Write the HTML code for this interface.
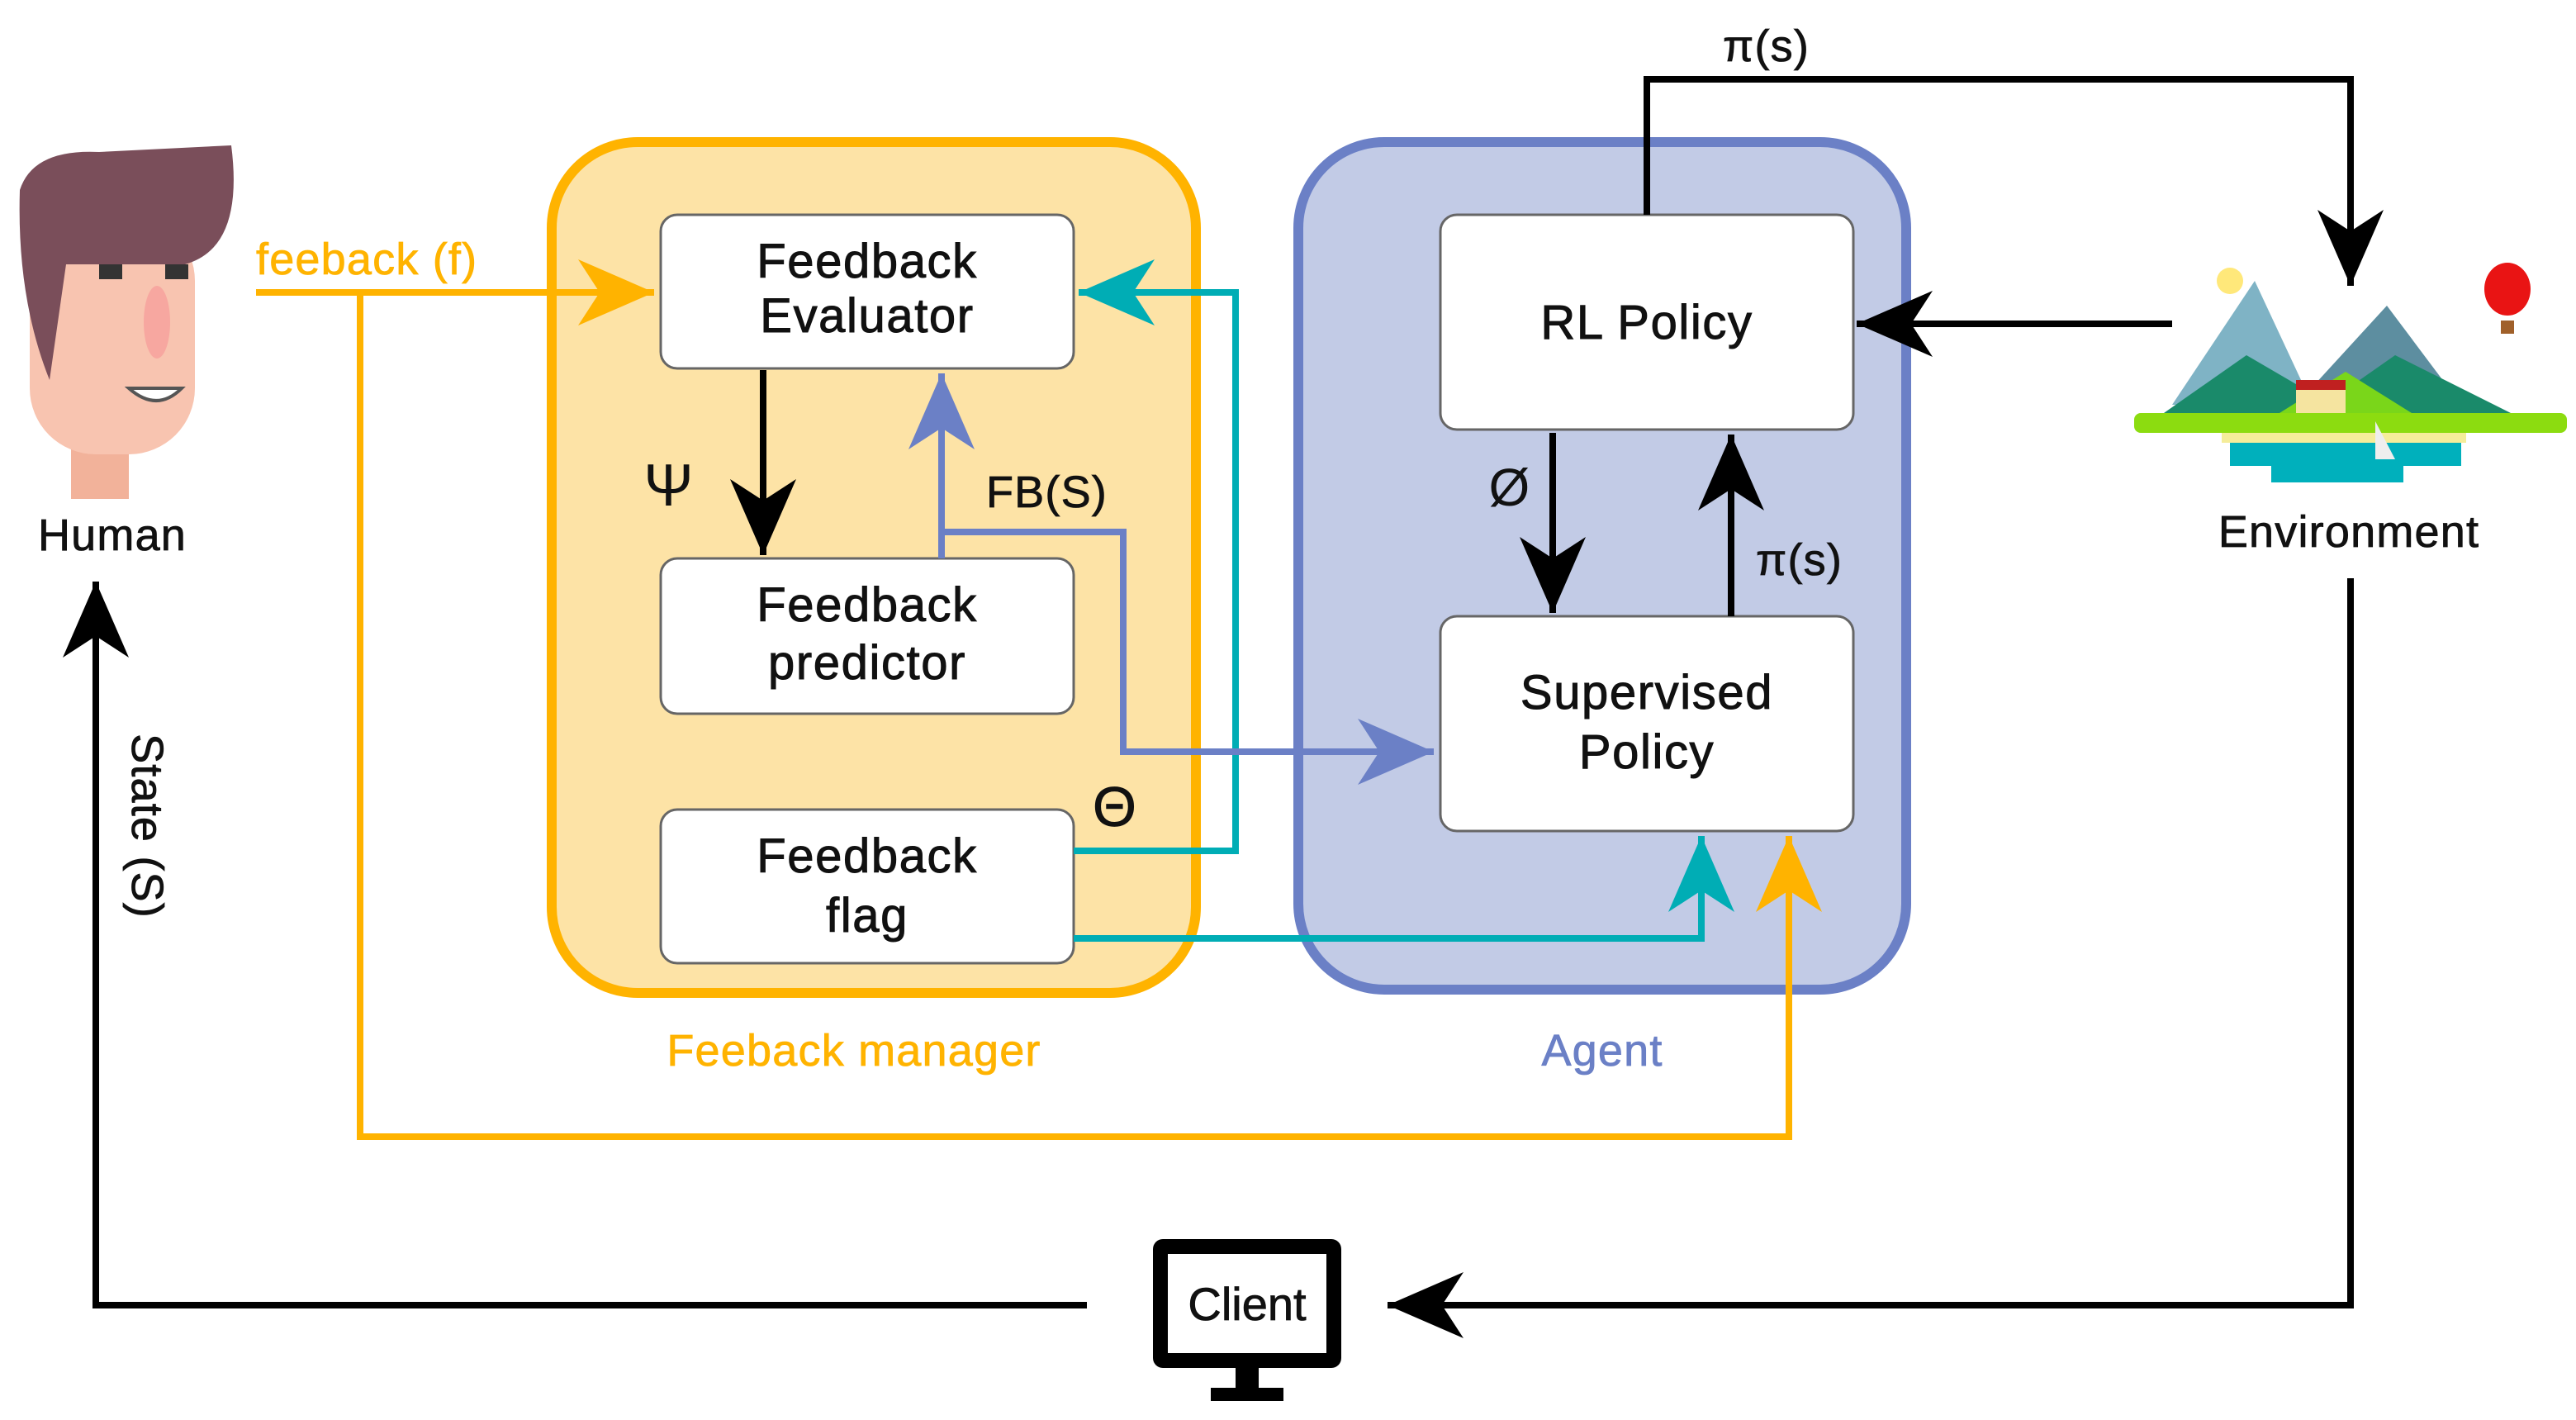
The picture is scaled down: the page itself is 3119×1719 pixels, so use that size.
<!DOCTYPE html>
<html><head><meta charset="utf-8"><style>html,body{margin:0;padding:0;background:#fff}svg{display:block}</style></head><body>
<svg width="3119" height="1719" viewBox="0 0 1559.5 859.5" xmlns="http://www.w3.org/2000/svg" font-family="Liberation Sans, sans-serif">
<defs>
<marker id="mk" markerUnits="userSpaceOnUse" viewBox="0 0 46 40" refX="46" refY="20" markerWidth="46" markerHeight="40" orient="auto"><path d="M0,0 L46,20 L0,40 L13,20 z" fill="#000"/></marker>
<marker id="mo" markerUnits="userSpaceOnUse" viewBox="0 0 46 40" refX="46" refY="20" markerWidth="46" markerHeight="40" orient="auto"><path d="M0,0 L46,20 L0,40 L13,20 z" fill="#ffb300"/></marker>
<marker id="mt" markerUnits="userSpaceOnUse" viewBox="0 0 46 40" refX="46" refY="20" markerWidth="46" markerHeight="40" orient="auto"><path d="M0,0 L46,20 L0,40 L13,20 z" fill="#00adb5"/></marker>
<marker id="mb" markerUnits="userSpaceOnUse" viewBox="0 0 46 40" refX="46" refY="20" markerWidth="46" markerHeight="40" orient="auto"><path d="M0,0 L46,20 L0,40 L13,20 z" fill="#6b80c6"/></marker>
</defs>
<rect x="334" y="86" width="390" height="515" rx="52" fill="#fde3a6" stroke="#ffb300" stroke-width="6"/>
<rect x="786" y="86" width="368" height="513" rx="52" fill="#c2cbe6" stroke="#6b80c6" stroke-width="6"/>
<g fill="#fff" stroke="#666" stroke-width="1.5">
<rect x="400" y="130" width="250" height="93" rx="10"/>
<rect x="400" y="338" width="250" height="94" rx="10"/>
<rect x="400" y="490" width="250" height="93" rx="10"/>
<rect x="872" y="130" width="250" height="130" rx="10"/>
<rect x="872" y="373" width="250" height="130" rx="10"/>
</g>
<g font-size="29" text-anchor="middle" fill="#111" stroke="#111" stroke-width="0.5" letter-spacing="0.8">
<text x="525" y="168">Feedback</text><text x="525" y="201">Evaluator</text>
<text x="525" y="376">Feedback</text><text x="525" y="411">predictor</text>
<text x="525" y="528">Feedback</text><text x="525" y="564">flag</text>
<text x="997" y="205">RL Policy</text>
<text x="997" y="429">Supervised</text><text x="997" y="465">Policy</text>
</g>
<g fill="none" stroke-width="4">
<polyline points="155,177 396,177" stroke="#ffb300" marker-end="url(#mo)"/>
<polyline points="218,177 218,688 1083,688 1083,506" stroke="#ffb300" marker-end="url(#mo)"/>
<polyline points="650,515 748,515 748,177 653,177" stroke="#00adb5" marker-end="url(#mt)"/>
<polyline points="650,568 1030,568 1030,506" stroke="#00adb5" marker-end="url(#mt)"/>
<polyline points="570,338 570,226" stroke="#6b80c6" marker-end="url(#mb)"/>
<polyline points="570,322 680,322 680,455 868,455" stroke="#6b80c6" marker-end="url(#mb)"/>
<polyline points="462,224 462,336" stroke="#000" marker-end="url(#mk)"/>
<polyline points="940,262 940,371" stroke="#000" marker-end="url(#mk)"/>
<polyline points="1048,373 1048,263" stroke="#000" marker-end="url(#mk)"/>
<polyline points="997,130 997,48 1423,48 1423,173" stroke="#000" marker-end="url(#mk)"/>
<polyline points="1315,196 1124,196" stroke="#000" marker-end="url(#mk)"/>
<polyline points="1423,350 1423,790 840,790" stroke="#000" marker-end="url(#mk)"/>
<polyline points="658,790 58,790 58,352" stroke="#000" marker-end="url(#mk)"/>
</g>
<g font-size="27" fill="#111" stroke-width="0.4" letter-spacing="0.6">
<text x="155" y="166" fill="#ffb300" stroke="#ffb300">feeback (f)</text>
<text x="68" y="333" text-anchor="middle" stroke="#111">Human</text>
<text transform="translate(80,500) rotate(90)" text-anchor="middle" stroke="#111">State (S)</text>
<text x="405" y="306" text-anchor="middle" font-size="36">Ψ</text>
<text x="597" y="307" stroke="#111">FB(S)</text>
<text x="675" y="500" text-anchor="middle" font-size="34" stroke="#111">Θ</text>
<text x="914" y="306" text-anchor="middle" font-size="32">Ø</text>
<text x="1063" y="348" stroke="#111">π(s)</text>
<text x="1043" y="37" stroke="#111">π(s)</text>
<text x="1422" y="331" text-anchor="middle" stroke="#111">Environment</text>
<text x="517" y="645" text-anchor="middle" fill="#ffb300" stroke="#ffb300">Feeback manager</text>
<text x="970" y="645" text-anchor="middle" fill="#6b80c6" stroke="#6b80c6">Agent</text>
</g>
<!-- human -->
<rect x="43" y="260" width="35" height="42" fill="#f2b29a"/>
<rect x="18" y="130" width="100" height="145" rx="40" fill="#f8c4b0"/>
<path d="M12,115 Q20,90 60,92 L140,88 Q148,150 112,160 L40,160 L30,230 Q10,180 12,115z" fill="#7a4e5a"/>
<rect x="60" y="160" width="14" height="9" fill="#333"/><rect x="100" y="160" width="14" height="9" fill="#333"/>
<ellipse cx="95" cy="195" rx="8" ry="22" fill="#f7a7a0"/>
<path d="M78,235 Q95,250 110,235 z" fill="#fff" stroke="#555" stroke-width="2"/>
<!-- environment -->
<circle cx="1350" cy="170" r="8" fill="#ffe87a"/>
<polygon points="1315,245 1365,170 1400,245" fill="#7fb3c5"/>
<polygon points="1390,245 1445,185 1490,245" fill="#5d8ea0"/>
<polygon points="1310,250 1360,215 1420,250" fill="#1a8a6a"/>
<polygon points="1400,250 1450,215 1520,250" fill="#1a8a6a"/>
<polygon points="1380,250 1420,225 1460,250" fill="#7ad61a"/>
<rect x="1292" y="250" width="262" height="12" rx="4" fill="#8cdc10"/>
<rect x="1345" y="262" width="148" height="6" fill="#f5ed9a"/>
<rect x="1350" y="268" width="140" height="14" fill="#00b0bc"/>
<rect x="1375" y="282" width="80" height="10" fill="#00b0bc"/>
<polygon points="1438,255 1438,278 1450,278" fill="#eee"/>
<ellipse cx="1518" cy="175" rx="14" ry="16" fill="#e91414"/>
<rect x="1514" y="194" width="8" height="8" fill="#a0602a"/>
<rect x="1390" y="235" width="30" height="15" fill="#f5e4a0"/><rect x="1390" y="230" width="30" height="6" fill="#c02020"/>
<!-- client -->
<rect x="698" y="750" width="114" height="78" rx="6" fill="#000"/>
<rect x="707" y="759" width="96" height="60" fill="#fff"/>
<rect x="748" y="828" width="14" height="12" fill="#000"/>
<rect x="733" y="840" width="44" height="8" fill="#000"/>
<text x="755" y="799" text-anchor="middle" font-size="28" fill="#111" stroke="#111" stroke-width="0.4">Client</text>
</svg>
</body></html>
